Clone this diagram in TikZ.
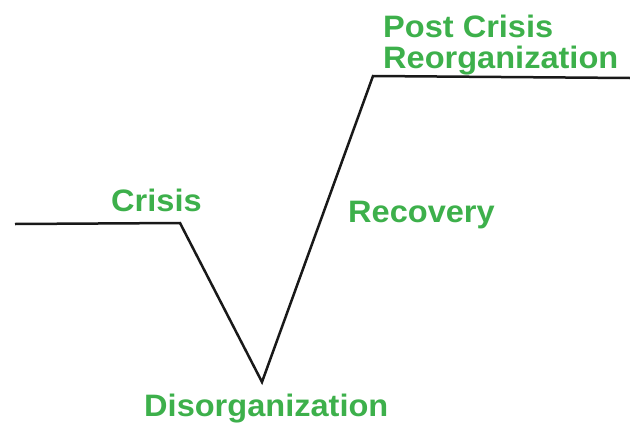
\documentclass[tikz,border=0pt]{standalone}
\usepackage{fontspec}
\setmainfont{Liberation Sans}[FakeStretch=1.05]
\definecolor{phasegreen}{RGB}{61,176,75}
\begin{document}
\begin{tikzpicture}[x=1pt,y=-1pt,
  phase/.style={font=\bfseries\fontsize{31}{31}\selectfont, text=phasegreen,
    inner sep=0pt, anchor=base west, align=left},
  curve/.style={line width=2.5pt, draw=black!90, line join=miter}]
\useasboundingbox (0,0) rectangle (630,426);
% turning points of the crisis curve
\coordinate (start) at (15,224);
\coordinate (onset) at (180,223);
\coordinate (bottom) at (262,382);
\coordinate (peak) at (373,76);
\coordinate (finish) at (630,78);
\draw[curve] (start) -- (onset) -- (bottom) -- (peak) -- (finish);
% phase labels
\node[phase] (crisis) at (111,211) {Crisis};
\node[phase] (disorg) at (144,416) {Disorganization};
\node[phase] (recovery) at (348,222) {Recovery};
\node[phase] (post) at (383,37) {Post Crisis};
\node[phase] (reorg) at (383,68) {Reorganization};
\end{tikzpicture}
\end{document}
